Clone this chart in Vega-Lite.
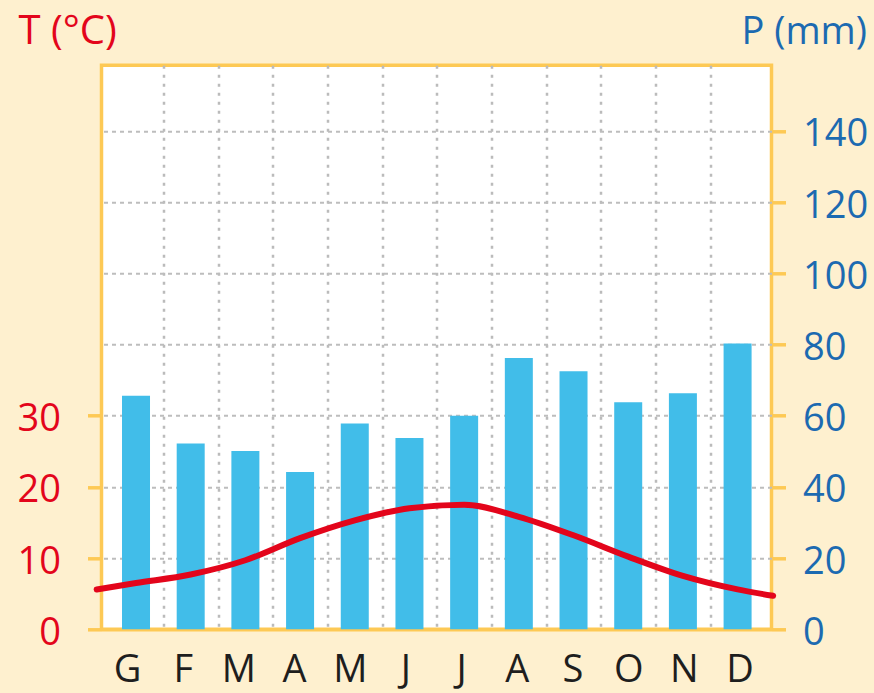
{
  "$schema": "https://vega.github.io/schema/vega-lite/v6.json",
  "width": 670,
  "height": 564,
  "autosize": {"type": "none"},
  "padding": {"left": 101.5, "top": 65.3, "right": 102.5, "bottom": 63.7},
  "background": "#FEF0CF",
  "config": {
    "view": {"fill": "white", "stroke": "#FDC955", "strokeWidth": 3.5},
    "axis": {"labelFont": "Open Sans", "titleFont": "Open Sans", "titleFontWeight": "normal", "labelFontWeight": "normal"}
  },
  "datasets": {
    "precip": [
      {"month": "G", "m": 1, "P": 65.6},
      {"month": "F", "m": 2, "P": 52.2},
      {"month": "M", "m": 3, "P": 50.1},
      {"month": "A", "m": 4, "P": 44.2},
      {"month": "M", "m": 5, "P": 57.8},
      {"month": "J", "m": 6, "P": 53.7},
      {"month": "J", "m": 7, "P": 60.0},
      {"month": "A", "m": 8, "P": 76.2},
      {"month": "S", "m": 9, "P": 72.5},
      {"month": "O", "m": 10, "P": 63.8},
      {"month": "N", "m": 11, "P": 66.3},
      {"month": "D", "m": 12, "P": 80.3}
    ],
    "temp": [
      {"m": 0.281, "T": 5.6},
      {"m": 1, "T": 6.5},
      {"m": 2, "T": 7.7},
      {"m": 3, "T": 9.7},
      {"m": 4, "T": 12.8},
      {"m": 5, "T": 15.3},
      {"m": 6, "T": 17.0},
      {"m": 7, "T": 17.5},
      {"m": 8, "T": 15.8},
      {"m": 9, "T": 13.2},
      {"m": 10, "T": 10.2},
      {"m": 11, "T": 7.5},
      {"m": 12, "T": 5.6},
      {"m": 12.65, "T": 4.7}
    ]
  },
  "layer": [
    {
      "data": {"name": "precip"},
      "mark": {"type": "bar", "width": 28, "color": "#41BDE9", "orient": "vertical"},
      "encoding": {
        "x": {
          "field": "m",
          "type": "quantitative",
          "scale": {"domain": [0.369, 12.62], "nice": false, "zero": false, "padding": 0},
          "axis": {
            "values": [1.5, 2.5, 3.5, 4.5, 5.5, 6.5, 7.5, 8.5, 9.5, 10.5, 11.5, 12.5],
            "labelExpr": "['G','F','M','A','M','J','J','A','S','O','N','D'][floor(datum.value)-1]",
            "labelOffset": {"expr": "datum.value - 37.85"},
            "labelFontSize": 38,
            "labelColor": "#1e1e1e",
            "labelPadding": 22,
            "labelFlush": false,
            "labelBound": false,
            "labelOverlap": false,
            "ticks": false,
            "tickSize": 0,
            "domainColor": "#FDC955",
            "domainWidth": 3.5,
            "grid": true,
            "gridColor": "#BBBBBB",
            "gridWidth": 2.5,
            "gridDash": [3, 6],
            "gridOpacity": {"condition": {"test": "datum.value > 12", "value": 0}, "value": 1},
            "title": null
          }
        },
        "y": {
          "field": "P",
          "type": "quantitative",
          "scale": {"domain": [0, 158.4], "nice": false},
          "axis": {
            "orient": "right",
            "values": [0, 20, 40, 60, 80, 100, 120, 140],
            "labelFontSize": 38,
            "labelColor": "#1C6AB1",
            "labelPadding": 17,
            "labelOffset": 4,
            "labelFlush": false,
            "labelBound": false,
            "labelOverlap": false,
            "tickSize": 14,
            "tickWidth": 3.5,
            "tickColor": "#FDC955",
            "domain": false,
            "grid": true,
            "gridColor": "#BDBDBD",
            "gridWidth": 2,
            "gridDash": [4, 4],
            "gridOpacity": {"condition": {"test": "datum.value == 0", "value": 0}, "value": 1},
            "title": "P (mm)",
            "titleColor": "#1C6AB1",
            "titleFontSize": 38,
            "titleAngle": 0,
            "titleAlign": "right",
            "titleBaseline": "alphabetic",
            "titleX": 95,
            "titleY": -22.3
          }
        }
      }
    },
    {
      "data": {"name": "temp"},
      "mark": {"type": "line", "color": "#E3051B", "strokeWidth": 6, "interpolate": "monotone", "strokeCap": "round"},
      "encoding": {
        "x": {"field": "m", "type": "quantitative"},
        "y": {
          "field": "T",
          "type": "quantitative",
          "scale": {"domain": [0, 79.2], "nice": false},
          "axis": {
            "orient": "left",
            "values": [0, 10, 20, 30],
            "labelFontSize": 38,
            "labelColor": "#E3051B",
            "labelPadding": 27,
            "labelOffset": 4,
            "labelFlush": false,
            "labelBound": false,
            "labelOverlap": false,
            "tickSize": 14,
            "tickWidth": 3.5,
            "tickColor": "#FDC955",
            "domain": false,
            "grid": false,
            "title": "T (°C)",
            "titleColor": "#E3051B",
            "titleFontSize": 40,
            "titleAngle": 0,
            "titleAlign": "left",
            "titleBaseline": "alphabetic",
            "titleX": -83.5,
            "titleY": -22.3
          }
        }
      }
    }
  ],
  "resolve": {"scale": {"y": "independent"}}
}
